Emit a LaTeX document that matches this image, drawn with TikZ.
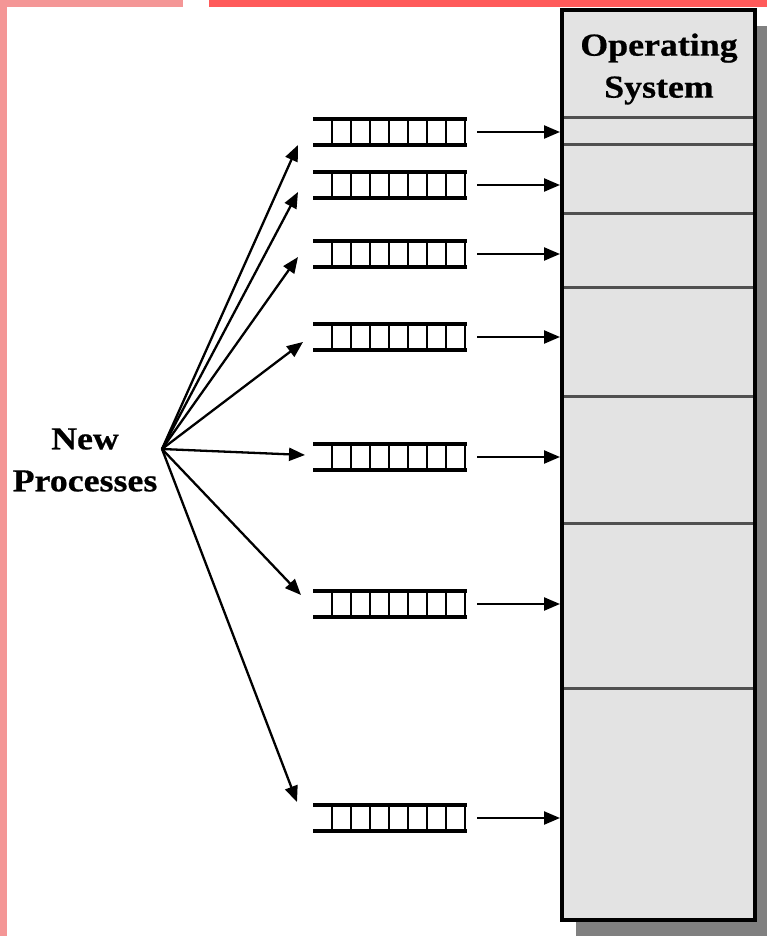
\documentclass[tikz,border=0pt]{standalone}
\usepackage{fontspec}
\setmainfont[FakeStretch=1.12,FakeBold=0.6]{Liberation Serif}
\usetikzlibrary{arrows.meta,calc}
\definecolor{pinkbg}{RGB}{244,150,150}
\definecolor{redbar}{RGB}{255,90,90}
\definecolor{boxgray}{RGB}{227,227,227}
\definecolor{shadowgray}{RGB}{128,128,128}
\definecolor{divgray}{RGB}{80,80,80}
\begin{document}
\begin{tikzpicture}[x=1pt,y=-1pt,
  arr/.style={line width=2.3pt,-{Triangle[length=16pt,width=13pt]}},
  queue/.style={minimum width=154pt,minimum height=26pt,inner sep=0pt,outer sep=0pt},
  rail/.style={line width=4.5pt},
  cell/.style={line width=2.6pt},
  divider/.style={divgray,line width=3pt},
  lbl/.style={font=\bfseries\fontsize{32}{42}\selectfont,align=center,inner sep=0pt}]
\useasboundingbox (0,0) rectangle (767,936);
\fill[white] (0,0) rectangle (767,936);
\fill[pinkbg] (0,0) rectangle (7,936);
\fill[pinkbg] (0,0) rectangle (183,7);
\fill[redbar] (209,0) rectangle (767,7);
% shadow
\fill[shadowgray] (576,26) rectangle (767,936);
% OS box
\node[fill=boxgray, minimum width=193pt, minimum height=910pt, inner sep=0pt, outer sep=0pt, anchor=north west] (os) at (562,10) {};
\foreach \y in {118,145,213,287,396,523,688}
  \draw[divider] (562,\y) -- (755,\y);
\draw[line width=4.5pt] (os.north west) rectangle (os.south east);
\node[lbl] (ostext) at (659,69) {Operating\\System};
% label
\node[lbl] (np) at (85,460) {New\\Processes};
\coordinate (src) at (162,449);
% queues
\foreach \i/\y in {1/132,2/185,3/254,4/337,5/457,6/604,7/818}{
  \node[queue] (q\i) at (390,\y) {};
  \draw[rail] (q\i.north west) -- (q\i.north east);
  \draw[rail] (q\i.south west) -- (q\i.south east);
  \foreach \k in {0,...,7}
    \draw[cell] ($(q\i.north west)+(19+\k*19,0)$) -- ($(q\i.south west)+(19+\k*19,0)$);
  \draw[arr,shorten >=2pt] ([xshift=10pt]q\i.east) -- (os.west |- q\i);
}
% fan targets
\foreach \i/\dx/\dy in {1/-15/13,2/-15/7,3/-15/3,4/-10/5,5/-8/-2,6/-12/-9,7/-16/-16}{
  \coordinate (t\i) at ($(q\i.west)+(\dx,\dy)$);
  \draw[arr] (src) -- (t\i);
}
\end{tikzpicture}
\end{document}
